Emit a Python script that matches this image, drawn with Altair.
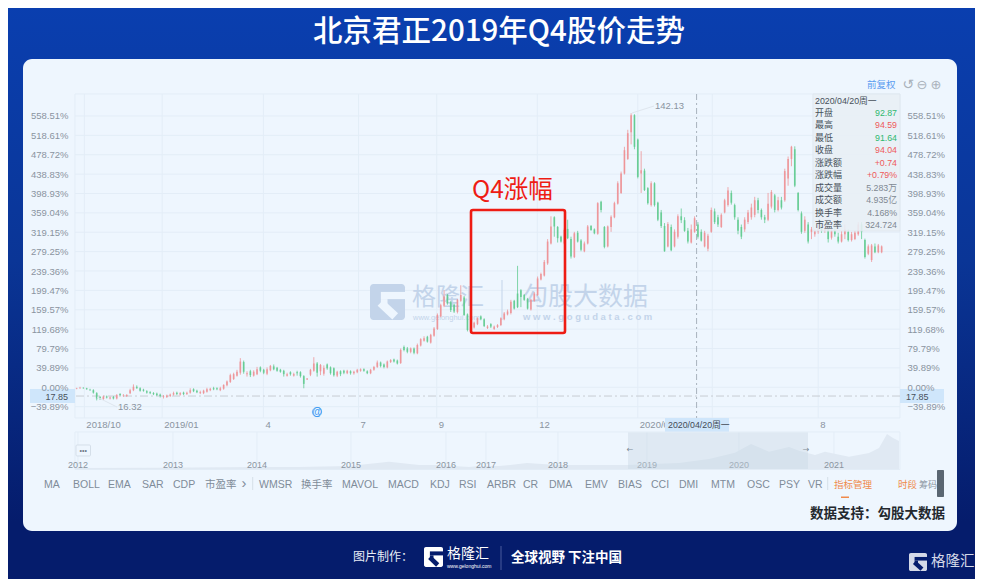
import altair as alt
import pandas as pd

# ---- values (percent change on the price scale) ----
OPEN_A = [-3,-2,-1,-2,-5,-6,-12,-20,-24,-19,-23,-20,-23,-14,-18,-18,-12,-6,1,-2,
 -5,-8,-10,-12,-13,-15,-20,-20,-18,-15,-11,-15,-11,-14,-11,-4,-7,-12,-12,-9,
 -6,-2,-2,-6,-3,4,11,17,24,30,52,27,33,24,27,41,36,28,35,43,
 40,36,34,24,31,24,31,31,23,16,26,34,49,33,28,47,41,39,24,33]
CLOSE_A = [-2,-1,-2,-4,-6,-11,-23,-23,-19,-21,-21,-23,-16,-16,-17,-16,-6,1,-2,-7,
 -7,-11,-12,-14,-16,-18,-19,-17,-15,-12,-14,-12,-14,-11,-6,-8,-10,-10,-7,-4,
 -3,-4,-4,-2,5,12,25,27,32,53,32,29,25,32,37,34,30,37,44,37,
 34,32,27,27,27,27,29,23,7,18,36,49,30,46,40,39,29,25,32,27]
HIGH_A = [-1,1,0,-1,-3,-4,-10,-18,-17,-17,-19,-18,-14,-12,-14,-14,-3,6,4,0,
 -3,-6,-8,-10,-11,-13,-16,-15,-13,-9,-9,-10,-9,-9,-2,-2,-5,-7,-5,-1,
 -1,1,0,1,6,14,28,30,36,60,55,33,36,35,42,43,38,41,46,47,
 42,38,36,30,33,30,34,33,25,19,38,62,52,48,45,49,43,41,34,35]
LOW_A = [-4,-3,-3,-5,-7,-13,-27,-26,-26,-23,-25,-25,-25,-18,-20,-20,-14,-8,-3,-9,
 -9,-13,-14,-16,-18,-21,-23,-22,-20,-17,-16,-17,-16,-16,-13,-10,-12,-14,-14,-11,
 -8,-6,-6,-8,-5,2,9,15,22,26,28,22,21,22,25,31,27,25,33,35,
 32,30,22,22,24,22,24,20,-2,15,23,32,22,25,24,36,26,22,21,23]

OPEN_B = [34,29,33,29,31,34,37,33,29,36,42,51,47,41,52,57,55,50,83,80,
 73,80,70,86,96,104,92,106,120,146,168,190,175,170,155,178,185,150,116,123,
 130,146,140,122,130,120,124,128,140,150,153,178,193,200,190,182,160,178,190,222,
 230,255,296,350,330,310,296,326,305,268,318,302,280,296,332,325,316,382,330,290,
 330,350,378,400,440,470,525,560,510,440,446,410,375,420,380]
CLOSE_B = [30,34,29,32,36,37,34,29,36,42,51,44,42,53,56,53,49,77,77,73,
 80,71,87,99,101,94,108,121,149,169,187,173,159,156,180,190,149,118,125,133,
 142,140,126,125,125,125,128,142,152,156,176,162,165,186,180,162,180,193,224,233,
 258,300,331,331,307,300,324,307,269,317,300,283,296,331,324,317,379,365,289,331,
 351,379,420,440,488,523,560,495,433,447,406,379,420,375,345]
HIGH_B = [36,36,35,34,38,39,39,35,38,44,55,53,49,55,58,59,57,80,86,83,
 82,82,90,101,105,106,110,124,152,172,200,192,178,172,182,210,188,152,128,135,
 144,148,142,128,132,127,130,144,155,160,180,180,250,202,192,184,182,196,228,236,
 262,305,352,352,332,312,327,345,310,320,322,305,300,334,334,327,381,384,332,333,
 354,382,424,444,495,530,564,562,512,486,450,412,424,422,382]
LOW_B = [27,27,26,26,29,32,32,27,27,34,40,41,39,39,50,51,47,48,74,70,
 70,68,68,84,94,92,90,104,118,144,165,170,155,153,152,176,147,115,114,121,
 128,138,124,120,122,118,122,126,138,148,150,160,163,165,178,160,158,176,188,220,
 228,252,294,310,298,298,294,305,265,266,298,280,278,294,322,315,314,360,286,288,
 320,348,376,398,438,468,500,490,430,400,404,376,372,372,342]

OPEN_C = [360,332,290,330,290,310,352,344,322,298,320,335,320,290,285,320,362,350,330,360,
 375,400,375,345,330,325,340,350,355,385,365,350,345,372,395,365,385,385,430,470,
 490,400,358,322,335,320,315,320,330,322,325,308,322,310,300,315,320,303,305,315,
 335,303,275,262,290,278,278]
CLOSE_C = [332,280,336,282,320,352,344,322,300,325,348,310,302,318,312,365,340,335,355,385,
 405,380,350,322,310,345,360,370,385,365,350,345,378,402,365,385,370,445,470,495,
 415,365,320,345,300,325,322,335,322,330,305,322,315,300,315,325,303,315,318,335,
 320,268,290,292,278,292,290]
HIGH_C = [365,338,340,335,325,356,368,350,328,335,352,340,325,322,316,370,368,355,358,388,
 412,405,378,350,335,350,365,378,392,390,368,355,400,406,398,392,392,450,475,497,
 496,402,362,352,340,330,326,340,338,334,330,330,330,318,322,335,325,320,322,340,
 340,306,294,295,296,295,292]
LOW_C = [328,279,288,280,288,306,338,320,296,296,318,306,300,288,280,318,336,330,328,358,
 372,376,345,315,305,320,336,345,350,358,345,338,342,368,360,362,366,382,415,455,
 412,362,316,318,296,305,310,316,318,318,298,304,310,296,298,305,300,300,303,312,
 305,265,272,258,276,276,276]

Y_TICKS = [-39.89,0,39.89,79.79,119.68,159.57,199.47,239.36,279.25,319.15,359.04,398.93,438.83,478.72,518.61,558.51]
BASE_PCT = [-18]
DATE_IDX = [2.3,25.6,55.9,84.4,107.8,137.9,168,190.3,222]
DATE_TXT = ["2018/10","2019/01","4","7","9","12","2020/01","","8"]
CROSS_IDX = [185.6]

MINI_WEEK = [0,42,90,112,137,157,172,181,197,202,212,226,241,276,302,317,330,338,347,357,362,370,375,387,397,402,406,409,412]
MINI_VAL = [6,8,11,11,16,38,21,21,11,16,16,31,21,21,31,51,83,126,88,111,93,71,88,63,81,106,176,156,141]
MINI_GRID = [1.5,49,91,138,185.5,205.5,241.5,286,332,379.5]
MINI_YEAR = ["2012","2013","2014","2015","2016","2017","2018","2019","2020","2021"]

INDICATORS = [("MA",44),("BOLL",73),("EMA",108),("SAR",142),("CDP",173),("市盈率",205),("WMSR",259),("换手率",301),
 ("MAVOL",342),("MACD",388),("KDJ",430),("RSI",459),("ARBR",487),("CR",523),("DMA",549),("EMV",585),("BIAS",618),
 ("CCI",651),("DMI",679),("MTM",711),("OSC",747),("PSY",779),("VR",808)]
TIP_ROWS = [("开盘","92.87","#2fb86f"),("最高","94.59","#ee5a5a"),("最低","91.64","#2fb86f"),("收盘","94.04","#ee5a5a"),
 ("涨跌额","+0.74","#ee5a5a"),("涨跌幅","+0.79%","#ee5a5a"),("成交量","5.283万","#7f8892"),("成交额","4.935亿","#7f8892"),
 ("换手率","4.168%","#7f8892"),("市盈率","324.724","#7f8892")]

OX, OY = 75, 94     # screen position of the plot's top-left corner
W, H = 825, 324
LAT = "Liberation Sans, Noto Sans CJK SC"
CJK = "Noto Sans CJK SC, Liberation Sans"
GRID = "#e3edf7"
PANEL = "#eef6fe"
NAVY = "#051c6c"
ONE = alt.Data(values=[{"a": 0}])

open_ = OPEN_A + OPEN_B + OPEN_C
close = CLOSE_A + CLOSE_B + CLOSE_C
high = HIGH_A + HIGH_B + HIGH_C
low = LOW_A + LOW_B + LOW_C
assert len(open_) == len(close) == len(high) == len(low), (len(open_), len(close), len(high), len(low))
candles = pd.DataFrame({"i": range(len(open_)), "o": open_, "c": close, "h": high, "l": low})
candles["dir"] = ["up" if c >= o else "down" for o, c in zip(open_, close)]

XS = alt.Scale(domain=[-0.5, 246.5], range=[0, W], nice=False, zero=False)
YS = alt.Scale(domain=[-63.2, 603.7], nice=False, zero=False)
MXS = alt.Scale(domain=[0, 412.5], range=[0, W], nice=False, zero=False)
MYS = alt.Scale(domain=[0, 185], range=[375.3, 338.3], nice=False, zero=False)
COL = alt.Color("dir:N", scale=alt.Scale(domain=["up", "down"], range=["#ee8f92", "#5cc98c"]), legend=None)


def rect(x0, y0, x1, y1, **kw):
    return alt.Chart(ONE).mark_rect(**kw).encode(
        x=alt.value(x0 - OX), x2=alt.value(x1 - OX), y=alt.value(y0 - OY), y2=alt.value(y1 - OY))


def line(x0, y0, x1, y1, **kw):
    return alt.Chart(ONE).mark_rule(**kw).encode(
        x=alt.value(x0 - OX), x2=alt.value(x1 - OX), y=alt.value(y0 - OY), y2=alt.value(y1 - OY))


def txt(s, x, y, size=10, color="#8a94a0", align="left", weight="normal", font=LAT, **kw):
    return alt.Chart(ONE).mark_text(text=s, fontSize=size, color=color, align=align, baseline="middle",
                                    fontWeight=weight, font=font, **kw).encode(
        x=alt.value(x - OX), y=alt.value(y - OY))


def logo(x0, y0, x1, y1, color, bg):
    """The G-shaped company mark, built from a block and three cut-outs."""
    w, h = x1 - x0, y1 - y0
    return [
        rect(x0, y0, x1, y1, fill=color, cornerRadius=w * 0.1),
        rect(x0 + 0.31 * w, y0 + 0.22 * h, x1 + 0.5, y0 + 0.42 * h, fill=bg),
        line(x0 + 0.30 * w, y0 + 0.52 * h, x0 + 0.72 * w, y0 + 0.90 * h, color=bg, strokeWidth=0.24 * w),
        rect(x0 + 0.31 * w, y0 + 0.42 * h, x0 + 0.5 * w, y0 + 0.62 * h, fill=bg),
    ]


def axis(orient):
    return alt.Axis(orient=orient, values=Y_TICKS, title=None, grid=False, domain=False, ticks=False, zindex=1,
                    labelExpr="format(datum.value, '.2f') + '%'", labelFont=LAT, labelFontSize=9.5,
                    labelColor="#8a94a0", labelPadding=7, labelOverlap=False, labelBound=False, labelFlush=False)


layers = []
# page background and panel
layers.append(rect(0, 0, 983, 579, fill=alt.LinearGradient(gradient="linear", x1=0, y1=0, x2=0, y2=1, stops=[
    alt.GradientStop(color="#0a3fb0", offset=0), alt.GradientStop(color="#0a3596", offset=0.45),
    alt.GradientStop(color=NAVY, offset=0.9), alt.GradientStop(color=NAVY, offset=1)])))
layers.append(rect(23, 59, 957, 531, fill=PANEL, cornerRadius=9))
layers.append(rect(75, 94, 900, 418, fill=PANEL, stroke=GRID, strokeWidth=1))
# grid
grid_y = pd.DataFrame({"v": Y_TICKS})
layers.append(alt.Chart(grid_y).mark_rule(color=GRID, strokeWidth=1).encode(y=alt.Y("v:Q", scale=YS, axis=None)))
dates = pd.DataFrame({"i": DATE_IDX, "t": DATE_TXT})
layers.append(alt.Chart(dates).mark_rule(color=GRID, strokeWidth=1).encode(x=alt.X("i:Q", scale=XS, axis=None)))
# base price line
layers.append(alt.Chart(pd.DataFrame({"v": BASE_PCT})).mark_rule(color="#c7ccd3", strokeWidth=1, strokeDash=[8, 3, 2, 3]).encode(
    y=alt.Y("v:Q", scale=YS, axis=None)))
# watermark (under the candles' cut-outs, over the grid)
WM = "#c3d4ea"
layers.extend(logo(370, 284, 405, 320, WM, PANEL))
layers.append(txt("格隆汇", 412, 298, size=24, color=WM, font=CJK))
layers.append(txt("www.gelonghui.com", 413, 318, size=7.5, color=WM))
layers.append(line(502, 280, 502, 320, color=WM, strokeWidth=1))
layers.append(txt("勾股大数据", 523, 297, size=25, color=WM, font=CJK))
layers.append(txt("w w w . g o g u d a t a . c o m", 523, 317, size=9.5, color=WM, weight="bold"))
# candles
layers.append(alt.Chart(candles).mark_rule(strokeWidth=0.9, opacity=0.85).encode(
    x=alt.X("i:Q", scale=XS, axis=None), y=alt.Y("l:Q", scale=YS, axis=axis("left")), y2="h:Q", color=COL))
layers.append(alt.Chart(candles).mark_rule(strokeWidth=1.7, opacity=0.8).encode(
    x=alt.X("i:Q", scale=XS, axis=None), y=alt.Y("o:Q", scale=YS, axis=axis("right")), y2="c:Q", color=COL))
# date labels
layers.append(alt.Chart(dates).mark_text(align="left", baseline="middle", dx=2, font=LAT, fontSize=9.5, color="#8a94a0").encode(
    x=alt.X("i:Q", scale=XS, axis=None), y=alt.value(425 - OY), text="t:N"))
# crosshair
layers.append(alt.Chart(pd.DataFrame({"i": CROSS_IDX})).mark_rule(color="#a9b2bd", strokeWidth=1, strokeDash=[6, 3, 2, 3]).encode(
    x=alt.X("i:Q", scale=XS, axis=None)))
layers.append(rect(665, 418, 729, 432, fill="#cfe6fb"))
layers.append(txt("2020/04/20周一", 668, 425, size=8.8, color="#444c55"))
# price tags
layers.append(rect(30, 389, 75, 403, fill="#cfe6fb"))
layers.append(txt("17.85", 68, 396.5, size=9, color="#47505a", align="right"))
layers.append(rect(900, 389, 944, 403, fill="#cfe6fb"))
layers.append(txt("17.85", 906, 396.5, size=9, color="#47505a"))
# peak / trough notes
layers.append(line(632, 113, 654, 106, color="#dfe6ee", strokeWidth=1))
layers.append(txt("142.13", 655, 106, size=9.5))
layers.append(line(97, 397, 117, 407, color="#dfe6ee", strokeWidth=1))
layers.append(txt("16.32", 118, 407, size=9.5))
layers.append(txt("@", 317, 412, size=10, color="#3d9bf3", align="center", weight="bold"))
layers.append(alt.Chart(ONE).mark_point(shape="circle", size=85, color="#3d9bf3", strokeWidth=1, filled=False).encode(
    x=alt.value(317 - OX), y=alt.value(412 - OY)))
# top right controls
layers.append(txt("前复权", 867, 85, size=9.5, color="#5b9cf0", font=CJK))
layers.append(txt("↺", 908, 85, size=14, color="#aab2bb", align="center", font="DejaVu Sans"))
layers.append(txt("⊖", 922, 85, size=13, color="#aab2bb", align="center", font="DejaVu Sans"))
layers.append(txt("⊕", 936, 85, size=13, color="#aab2bb", align="center", font="DejaVu Sans"))
# annotation
layers.append(rect(471, 210, 565, 333, fill="transparent", stroke="#ee1c14", strokeWidth=2.6, cornerRadius=2))
layers.append(txt("Q4涨幅", 472, 191, size=24.5, color="#ee1c14", font=CJK))
# tooltip
layers.append(rect(813, 94, 900, 231, fill="#e9f0f6", opacity=0.88, stroke="#dfe7ef", strokeWidth=1))
layers.append(txt("2020/04/20周一", 815, 100.7, size=8.8, color="#47505a"))
for n, (name, val, colr) in enumerate(TIP_ROWS):
    y = 112.8 + n * 12.47
    layers.append(txt(name, 815, y, size=9, color="#47505a", font=CJK))
    layers.append(txt(val, 897, y, size=8.8, color=colr, align="right"))
# mini navigator
layers.append(rect(75, 432, 900, 469.5, fill=PANEL, stroke=GRID, strokeWidth=1))
mini_grid = pd.DataFrame({"w": MINI_GRID, "t": MINI_YEAR})
layers.append(alt.Chart(mini_grid).mark_rule(color=GRID, strokeWidth=1).encode(
    x=alt.X("w:Q", scale=MXS, axis=None), y=alt.value(338), y2=alt.value(375.5)))
mini = pd.DataFrame({"w": MINI_WEEK, "v": MINI_VAL})
layers.append(alt.Chart(mini).mark_area(color="#e0e9f3", interpolate="linear").encode(
    x=alt.X("w:Q", scale=MXS, axis=None), y=alt.Y("v:Q", scale=MYS, axis=None)))
layers.append(alt.Chart(mini_grid).mark_text(baseline="middle", align="center", font=LAT, fontSize=9, color="#8a94a0").encode(
    x=alt.X("w:Q", scale=MXS, axis=None), y=alt.value(465 - OY), text="t:N"))
layers.append(rect(628, 432.5, 808, 469, fill="#c7d6e4", opacity=0.4))
layers.append(txt("←", 630, 450, size=8, color="#7f8c99", align="center", font="DejaVu Sans"))
layers.append(txt("→", 806, 450, size=8, color="#7f8c99", align="center", font="DejaVu Sans"))
layers.append(rect(76, 445, 90.5, 456, fill=PANEL, stroke="#d5dfe9", strokeWidth=1, cornerRadius=1))
layers.append(txt("•••", 83.2, 450.5, size=7, color="#6f7a86", align="center"))
# indicator row
for name, x in INDICATORS:
    layers.append(txt(name, x, 484.5, size=10.5, color="#7f8c99", font=LAT))
layers.append(txt("›", 244, 483, size=15, color="#7f8c99", align="center"))
layers.append(line(252.7, 477, 252.7, 490, color="#d6dfe8", strokeWidth=1))
layers.append(line(827.7, 477, 827.7, 490, color="#d6dfe8", strokeWidth=1))
layers.append(txt("指标管理", 834, 484.5, size=9.5, color="#f08a4b", font=CJK))
layers.append(txt("时段", 898, 484.5, size=9.5, color="#f08a4b", font=CJK))
layers.append(txt("筹码", 919, 484.5, size=9, color="#8a94a0", font=CJK))
layers.append(rect(841, 496.5, 849, 498, fill="#f08a4b"))
layers.append(rect(937, 470, 944, 497, fill="#5a6672", cornerRadius=1))
layers.append(txt("数据支持\uff1a勾股大数据", 945, 514, size=13.5, color="#23282e", align="right", weight="bold", font=CJK))
# heading and footer
layers.append(txt("北京君正2019年Q4股价走势", 499, 32, size=29.5, color="#ffffff", align="center", weight=500, font=CJK))
layers.append(txt("图片制作\uff1a", 353, 557, size=12, color="#e8ecf6", font=CJK))
layers.extend(logo(424, 547, 443, 567, "#ffffff", NAVY))
layers.append(txt("格隆汇", 447, 553.5, size=14, color="#ffffff", font=CJK))
layers.append(txt("www.gelonghui.com", 447, 565.5, size=5, color="#ffffff"))
layers.append(line(501, 546, 501, 570, color="#4a5a9c", strokeWidth=1))
layers.append(txt("全球视野 下注中国", 511, 558, size=13.5, color="#ffffff", weight="bold", font=CJK))
layers.extend(logo(909, 553, 927, 571, "#d4d9e8", NAVY))
layers.append(txt("格隆汇", 931, 562, size=14.5, color="#d4d9e8", font=CJK))

chart = alt.layer(*layers).resolve_scale(x="independent", y="independent").properties(
    width=W, height=H, background=NAVY, autosize=alt.AutoSizeParams(type="none"),
    padding={"left": OX - 8, "top": OY - 8, "right": 75, "bottom": 161},
).configure_view(stroke=None)

chart.save("out.html", embed_options={"renderer": "svg", "actions": False})
